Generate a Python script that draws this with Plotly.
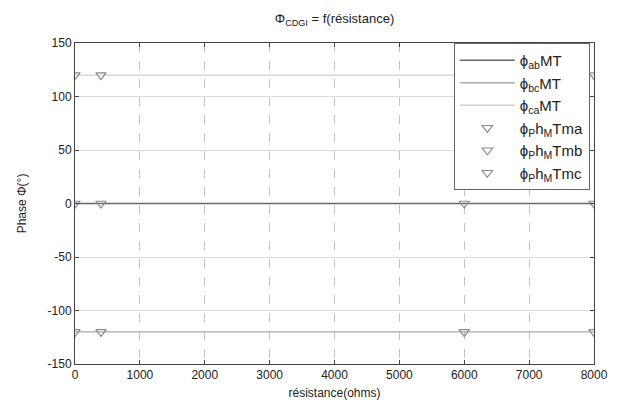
import plotly.graph_objects as go

# Resistance values (ohms) at which the phases were computed
resistance = [0, 400, 6000, 8000]

# Phase of the line-to-line voltages (MT side), degrees
phi_ab_mt = [0, 0, 0, 0]
phi_bc_mt = [-120, -120, -120, -120]
phi_ca_mt = [120, 120, 120, 120]

# Phase of the phase-to-ground voltages (MT side), degrees
phi_ph_mt_a = [0, 0, 0, 0]
phi_ph_mt_b = [-120, -120, -120, -120]
phi_ph_mt_c = [120, 120, 120, 120]

x_ticks = [0, 1000, 2000, 3000, 4000, 5000, 6000, 7000, 8000]
y_ticks = [-150, -100, -50, 0, 50, 100, 150]

FONT = "Liberation Sans, Arial, sans-serif"

fig = go.Figure()

line_styles = [
    ("ϕ<sub>ab</sub>MT", phi_ab_mt, "#6a6a6a", 1.6),
    ("ϕ<sub>bc</sub>MT", phi_bc_mt, "#a8a8a8", 1.4),
    ("ϕ<sub>ca</sub>MT", phi_ca_mt, "#d2d2d2", 1.4),
]
for name, y, color, width in line_styles:
    fig.add_trace(go.Scatter(
        x=resistance, y=y, name=name, mode="lines",
        line=dict(color=color, width=width),
    ))

marker_styles = [
    ("ϕ<sub>P</sub>h<sub>M</sub>Tma", phi_ph_mt_a),
    ("ϕ<sub>P</sub>h<sub>M</sub>Tmb", phi_ph_mt_b),
    ("ϕ<sub>P</sub>h<sub>M</sub>Tmc", phi_ph_mt_c),
]
for name, y in marker_styles:
    fig.add_trace(go.Scatter(
        x=resistance, y=y, name=name, mode="markers",
        marker=dict(symbol="triangle-down-open", size=9,
                    color="#8a8a8a", line=dict(width=1.2, color="#8a8a8a")),
    ))

axis_common = dict(
    showline=True, linecolor="#444", linewidth=1, mirror="allticks",
    ticks="inside", ticklen=4, tickcolor="#444",
    tickfont=dict(family=FONT, size=12, color="#222"),
    zeroline=False,
)

fig.update_xaxes(
    range=[0, 8000], tickvals=x_ticks, ticktext=[str(v) for v in x_ticks],
    showgrid=True, gridcolor="#c4c4c4", griddash="dash", gridwidth=1,
    title=dict(text="résistance(ohms)", font=dict(family=FONT, size=12, color="#222"),
               standoff=7),
    **axis_common,
)
fig.update_yaxes(
    range=[-150, 150], tickvals=y_ticks, ticktext=[str(v) for v in y_ticks],
    showgrid=True, gridcolor="#dcdcdc", gridwidth=1,
    title=dict(text="Phase Φ(°)", font=dict(family=FONT, size=12, color="#222"),
               standoff=18),
    **axis_common,
)

fig.update_layout(
    width=620, height=410,
    margin=dict(l=75, r=20, t=43, b=36),
    paper_bgcolor="white", plot_bgcolor="white",
    font=dict(family=FONT, size=12, color="#222"),
    title=dict(text="Φ<sub>CDGI</sub> = f(résistance)", x=0.5, xref="paper",
               y=0.955, yanchor="middle",
               font=dict(family=FONT, size=13, color="#222")),
    showlegend=True,
    legend=dict(
        x=0.992, y=1.0, xanchor="right", yanchor="top",
        bgcolor="white", bordercolor="#666", borderwidth=1,
        font=dict(family=FONT, size=15, color="#222"),
        tracegroupgap=0, itemwidth=55,
    ),
)

fig.write_html("out.html")
